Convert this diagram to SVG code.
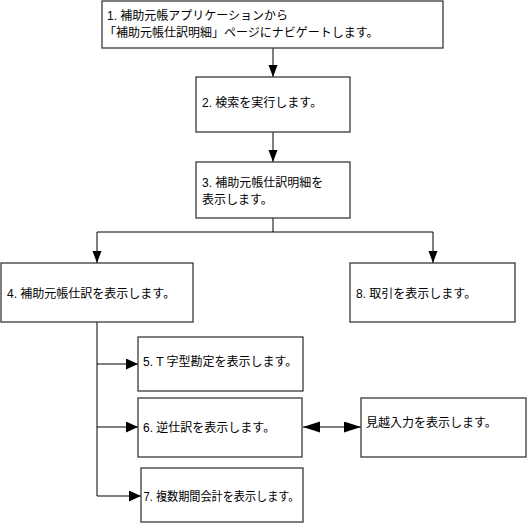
<svg xmlns="http://www.w3.org/2000/svg" width="527" height="524" viewBox="0 0 527 524">
<style>
.box{fill:#fff;stroke:#3a3a3a;stroke-width:1.3}
.t{font-family:"Liberation Sans","Noto Sans CJK JP",sans-serif;font-size:12px;fill:#000}
.c{fill:none;stroke:#000;stroke-width:1}
</style>
<defs>
<marker id="a" markerUnits="userSpaceOnUse" markerWidth="12" markerHeight="10" refX="12" refY="4.5" orient="auto"><path d="M0,0 L12,4.5 L0,9 z" fill="#000"/></marker>
<marker id="ah" markerUnits="userSpaceOnUse" markerWidth="12" markerHeight="11" refX="12" refY="5.5" orient="auto"><path d="M0,0 L12,5.5 L0,11 z" fill="#000"/></marker>
<marker id="b" markerUnits="userSpaceOnUse" markerWidth="18" markerHeight="12" refX="17" refY="5.5" orient="auto-start-reverse"><path d="M0,0 L17,5.5 L0,11 z" fill="#000"/></marker>
</defs>
<rect width="527" height="524" fill="#fff"/>
<g id="connectors">
<path class="c" d="M273 48 V77" marker-end="url(#a)"/>
<path class="c" d="M273 132 V162" marker-end="url(#a)"/>
<path class="c" d="M273 218 V232 H97 V263" marker-end="url(#a)"/>
<path class="c" d="M273 232 H433 V263" marker-end="url(#a)"/>
<path class="c" d="M97 322 V364 H138" marker-end="url(#ah)"/>
<path class="c" d="M97 364 V427 H138" marker-end="url(#ah)"/>
<path class="c" d="M97 427 V496 H141" marker-end="url(#ah)"/>
<path class="c" d="M303 427 H361" marker-start="url(#b)" marker-end="url(#b)"/>
</g>
<g id="n1"><rect class="box" x="102" y="1" width="341" height="47"/>
<text class="t" x="107" y="20">1. 補助元帳アプリケーションから</text>
<text class="t" x="104" y="37">「補助元帳仕訳明細」ページにナビゲートします。</text></g>
<g id="n2"><rect class="box" x="196" y="77" width="154" height="55"/>
<text class="t" x="202" y="107">2. 検索を実行します。</text></g>
<g id="n3"><rect class="box" x="196" y="162" width="154" height="56"/>
<text class="t" x="202" y="187">3. 補助元帳仕訳明細を</text>
<text class="t" x="202" y="204">表示します。</text></g>
<g id="n4"><rect class="box" x="1" y="263" width="192" height="59"/>
<text class="t" x="7" y="298">4. 補助元帳仕訳を表示します。</text></g>
<g id="n8"><rect class="box" x="350" y="263" width="165" height="59"/>
<text class="t" x="356" y="298">8. 取引を表示します。</text></g>
<g id="n5"><rect class="box" x="138" y="337" width="165" height="54"/>
<text class="t" x="143" y="366">5. T 字型勘定を表示します。</text></g>
<g id="n6"><rect class="box" x="138" y="398" width="164" height="59"/>
<text class="t" x="143" y="432">6. 逆仕訳を表示します。</text></g>
<g id="n9"><rect class="box" x="361" y="398" width="165" height="59"/>
<text class="t" x="366" y="427">見越入力を表示します。</text></g>
<g id="n7"><rect class="box" x="141" y="468" width="162" height="54"/>
<text class="t" x="143.5" y="501" textLength="156" lengthAdjust="spacingAndGlyphs">7. 複数期間会計を表示します。</text></g>
</svg>
